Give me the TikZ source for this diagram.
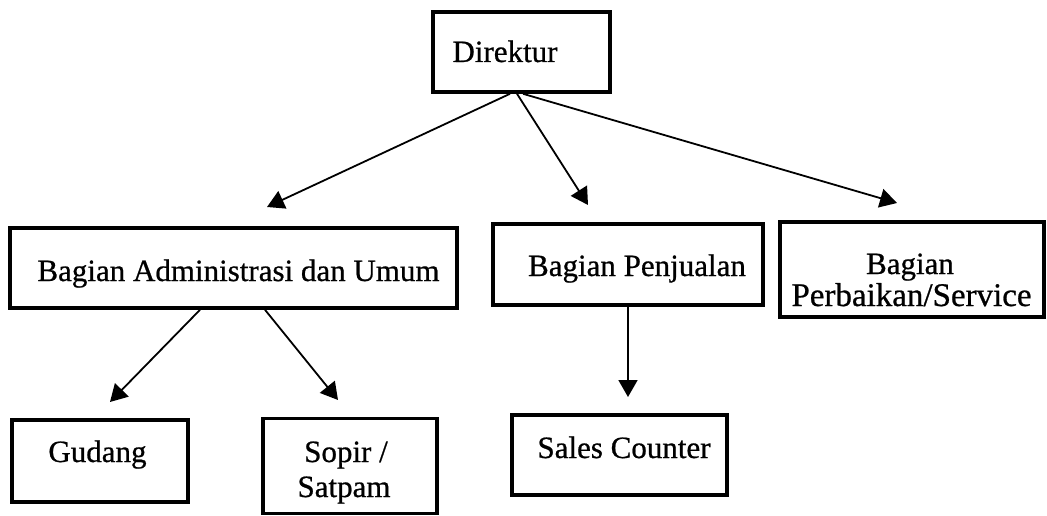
\documentclass[tikz,border=0pt]{standalone}
\usepackage{fontspec}
\setmainfont{Liberation Serif}[FakeBold=0.7]
\usetikzlibrary{arrows.meta}
\begin{document}
\begin{tikzpicture}[x=1pt,y=-1pt,
  box/.style={draw,line width=3.6pt,inner sep=0pt,rectangle},
  lbl/.style={inner sep=0pt,anchor=base,font=\fontsize{31}{32}\selectfont},
  arr/.style={line width=1.8pt,-{Triangle[length=17pt,width=19pt]}}]
\useasboundingbox[fill=white] (0,0) rectangle (1047,516);
% boxes
\node[box,minimum width=177pt,minimum height=80pt] (dir) at (521.5,52) {};
\node[box,minimum width=447pt,minimum height=80pt] (adm) at (233.5,268) {};
\node[box,minimum width=270pt,minimum height=81pt] (pen) at (628,264.5) {};
\node[box,minimum width=264pt,minimum height=95pt] (per) at (912,269.5) {};
\node[box,minimum width=176pt,minimum height=82pt] (gud) at (100,461) {};
\node[box,minimum width=174pt,minimum height=95pt] (sop) at (350,466) {};
\node[box,minimum width=215pt,minimum height=80pt] (sal) at (619.5,455) {};
% texts
\node[lbl] (tdir) at (505,62) {Direktur};
\node[lbl] (tadm) at (238.5,281) {Bagian Administrasi dan Umum};
\node[lbl] (tpen) at (637,276) {Bagian Penjualan};
\node[lbl] (tper1) at (910,274) {Bagian};
\node[lbl,font=\fontsize{33}{34}\selectfont] (tper2) at (911.5,306) {Perbaikan/Service};
\node[lbl] (tgud) at (97.5,462) {Gudang};
\node[lbl] (tsop1) at (346,462) {Sopir /};
\node[lbl] (tsop2) at (344,497) {Satpam};
\node[lbl] (tsal) at (624,458) {Sales Counter};
% arrow tips
\coordinate (hadm) at (267,207);
\coordinate (hpen) at (588,205);
\coordinate (hper) at (897,203);
\coordinate (hgud) at (110,402);
\coordinate (hsop) at (338,400);
\coordinate (hsal) at (628,397);
% connectors
\draw[arr] ([xshift=-11.5pt]dir.south) -- (hadm);
\draw[arr] ([xshift=-4.5pt]dir.south) -- (hpen);
\draw[arr] ([xshift=1.5pt]dir.south) -- (hper);
\draw[arr] ([xshift=-33.5pt]adm.south) -- (hgud);
\draw[arr] ([xshift=31.5pt]adm.south) -- (hsop);
\draw[arr] (pen.south) -- (hsal);
\end{tikzpicture}
\end{document}
